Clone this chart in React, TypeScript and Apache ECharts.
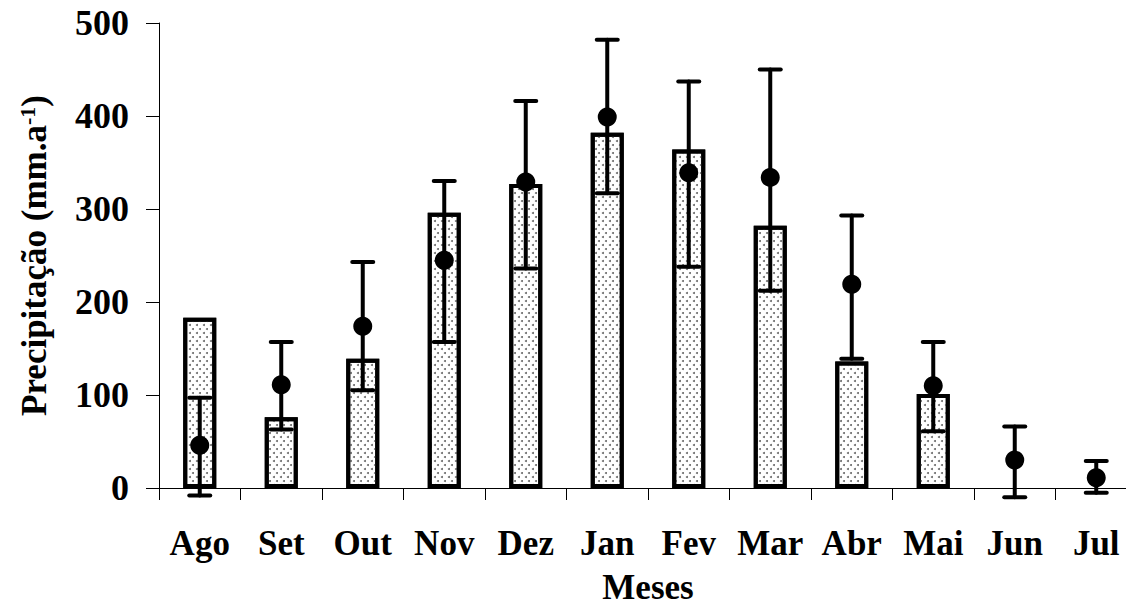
import React, { useEffect, useRef } from "react";
import * as echarts from "echarts";

const months = ["Ago", "Set", "Out", "Nov", "Dez", "Jan", "Fev", "Mar", "Abr", "Mai", "Jun", "Jul"];
const barValues = [183, 76, 139, 296, 327, 382, 364, 282, 136, 101, 0, 0];
const meanValues = [46, 111, 174, 245, 329, 399, 339, 334, 219, 110, 30, 11];
const upperValues = [97, 157, 243, 330, 416, 482, 437, 450, 293, 157, 66, 29];
const lowerValues = [-8, 63, 105, 157, 236, 317, 238, 212, 139, 61, -10, -5];
const yTicks = [0, 100, 200, 300, 400, 500];

const FONT = "'Liberation Serif', 'Times New Roman', serif";

export default function App() {
  const ref = useRef<HTMLDivElement>(null);
  useEffect(() => {
    if (!ref.current) return;
    const chart = echarts.init(ref.current, null, { renderer: "svg" });
    const errData = months.map((m, i) => [i, lowerValues[i], upperValues[i]]);
    chart.setOption({
      animation: false,
      backgroundColor: "#fff",
      grid: { left: 159, right: -11, top: 23, bottom: 121, containLabel: false, outerBoundsMode: "none" },
      xAxis: {
        type: "category",
        data: months,
        boundaryGap: true,
        name: "Meses",
        nameLocation: "middle",
        nameGap: 87,
        nameTextStyle: { fontFamily: FONT, fontWeight: "bold", fontSize: 35, lineHeight: 24, color: "#000" },
        axisLine: { show: true, lineStyle: { color: "#000", width: 1 } },
        axisTick: { show: true, length: 12, interval: 0, lineStyle: { color: "#000", width: 1 } },
        axisLabel: { interval: 0, margin: 38, fontFamily: FONT, fontWeight: "bold", fontSize: 35, color: "#000" },
        splitLine: { show: false },
      },
      yAxis: {
        type: "value",
        min: 0,
        max: 500,
        interval: 100,
        name: "{a|Precipitação (mm.a}{s|-1}{a|)}",
        nameLocation: "middle",
        nameGap: 107,
        nameTextStyle: {
          rich: {
            a: { fontFamily: FONT, fontWeight: "bold", fontSize: 35, color: "#000" },
            s: { fontFamily: FONT, fontWeight: "bold", fontSize: 22, color: "#000", verticalAlign: "top", padding: [0, 0, 14, 0] },
          },
        },
        axisLine: { show: true, lineStyle: { color: "#000", width: 1 } },
        axisTick: { show: true, inside: false, length: 13, lineStyle: { color: "#000", width: 1 } },
        axisLabel: {
          margin: 30,
          fontFamily: FONT,
          fontWeight: "bold",
          fontSize: 36,
          color: "#000",
          formatter: (v: number) => (yTicks.includes(v) ? String(v) : ""),
        },
        splitLine: { show: false },
      },
      series: [
        {
          type: "bar",
          data: barValues.map((v) => (v > 0 ? v : null)),
          barWidth: 33,
          itemStyle: {
            color: "#fff",
            borderColor: "#000",
            borderWidth: 4,
            decal: {
              symbol: "circle",
              symbolSize: 1,
              color: "#6a6a6a",
              dashArrayX: [[1.5, 4.5], [0, 3, 1.5, 1.5]],
              dashArrayY: [1.5, 1.5],
              rotation: 0,
            },
          },
          z: 1,
        },
        {
          type: "custom",
          data: errData,
          z: 3,
          renderItem: (params: any, api: any) => {
            const x = api.value(0);
            const lo = api.coord([x, api.value(1)]);
            const hi = api.coord([x, api.value(2)]);
            const hw = 10.5;
            const style = { stroke: "#000", lineWidth: 4, lineCap: "round" };
            return {
              type: "group",
              children: [
                { type: "line", shape: { x1: lo[0], y1: lo[1], x2: hi[0], y2: hi[1] }, style },
                { type: "line", shape: { x1: hi[0] - hw, y1: hi[1], x2: hi[0] + hw, y2: hi[1] }, style },
                { type: "line", shape: { x1: lo[0] - hw, y1: lo[1], x2: lo[0] + hw, y2: lo[1] }, style },
              ],
            };
          },
        },
        {
          type: "scatter",
          data: meanValues,
          symbol: "circle",
          symbolSize: 19,
          itemStyle: { color: "#000", opacity: 1 },
          z: 4,
        },
      ],
    });
    return () => chart.dispose();
  }, []);
  return <div ref={ref} style={{ position: "absolute", left: 0, top: 0, width: 1126, height: 609 }} />;
}
